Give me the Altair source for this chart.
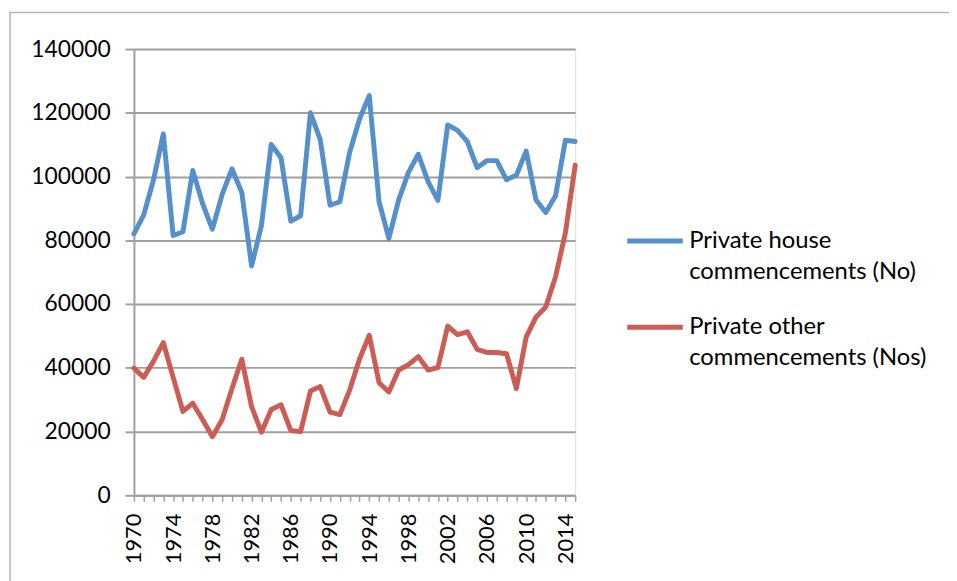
import altair as alt
import pandas as pd

years = list(range(1970, 2016))
house = [82000, 88000, 99000, 113400, 81500, 82700, 101900, 91500, 83500, 94400,
         102400, 95000, 72000, 84600, 110100, 105900, 86000, 87700, 120000, 111600,
         91000, 92100, 107600, 118000, 125400, 92100, 80600, 92700, 101300, 107000,
         98400, 92500, 116200, 114500, 111000, 102800, 105000, 105000, 99000, 100400,
         108000, 92700, 88700, 94000, 111400, 111000]
other = [39900, 37000, 42100, 47900, 37000, 26300, 28900, 23800, 18400, 23800,
         33500, 42700, 27800, 19800, 26900, 28400, 20300, 20000, 32700, 34100,
         26100, 25300, 33000, 42700, 50200, 35300, 32400, 39300, 41000, 43500,
         39300, 40100, 53100, 50400, 51300, 45800, 44800, 44800, 44400, 33500,
         49600, 55900, 59100, 68600, 82300, 103600]
series_names = ["Private house commencements (No)", "Private other commencements (Nos)"]
series_colors = ["#5690CB", "#CB5D55"]
y_ticks = [0, 20000, 40000, 60000, 80000, 100000, 120000, 140000]

df = pd.DataFrame({
    "year": years * 2,
    "value": house + other,
    "series": [series_names[0]] * len(years) + [series_names[1]] * len(years),
})

FONT = "Lato"
GRID = "#a0a0a0"

label_expr = ("datum.label == '" + series_names[0] + "' ? ['Private house', 'commencements (No)']"
              " : ['Private other', 'commencements (Nos)']")

lines = alt.Chart(df).mark_line(strokeWidth=5, strokeCap="round", strokeJoin="round").encode(
    x=alt.X("year:Q",
            scale=alt.Scale(domain=[1970, 2015], nice=False, zero=False),
            axis=alt.Axis(title=None, values=years, grid=False,
                          labelExpr="datum.value % 4 == 2 ? '' + datum.value : ''",
                          labelOverlap=False, labelAngle=270, labelFont=FONT,
                          labelFontSize=22, labelColor="black", labelPadding=12,
                          tickSize=6, tickWidth=1.5, tickColor=GRID,
                          domainColor=GRID, domainWidth=2)),
    y=alt.Y("value:Q",
            scale=alt.Scale(domain=[0, 140000], nice=False),
            axis=alt.Axis(title=None, values=y_ticks, format="d", grid=True,
                          gridColor=GRID, gridWidth=2, labelFont=FONT,
                          labelFontSize=23, labelColor="black", labelPadding=15,
                          tickSize=9, tickWidth=2, tickColor=GRID,
                          domainColor=GRID, domainWidth=2)),
    color=alt.Color("series:N",
                    scale=alt.Scale(domain=series_names, range=series_colors),
                    legend=alt.Legend(orient="none", legendX=495, legendY=163, title=None,
                                      symbolType="stroke", symbolSize=3136,
                                      symbolStrokeWidth=5, labelFont=FONT,
                                      labelFontSize=24, labelColor="black",
                                      labelLimit=500, labelOffset=4,
                                      labelExpr=label_expr, labelBaseline="middle",
                                      rowPadding=13, padding=0)),
)

frame = alt.Chart(pd.DataFrame({"a": [0]})).mark_rect(
    fillOpacity=0, stroke="#b6b6b6", strokeWidth=1.5
).encode(
    x=alt.value(-125), x2=alt.value(1200), y=alt.value(-37), y2=alt.value(1200)
)

chart = alt.layer(frame, lines).properties(
    width=445, height=450,
    autosize=alt.AutoSizeParams(type="none"),
    padding={"left": 127, "top": 39, "right": 377, "bottom": 84},
).configure_view(stroke=None).configure(
    style={"guide-label": {"lineHeight": 31}}
)

chart.save("out.html", embed_options={"renderer": "svg", "actions": False})
